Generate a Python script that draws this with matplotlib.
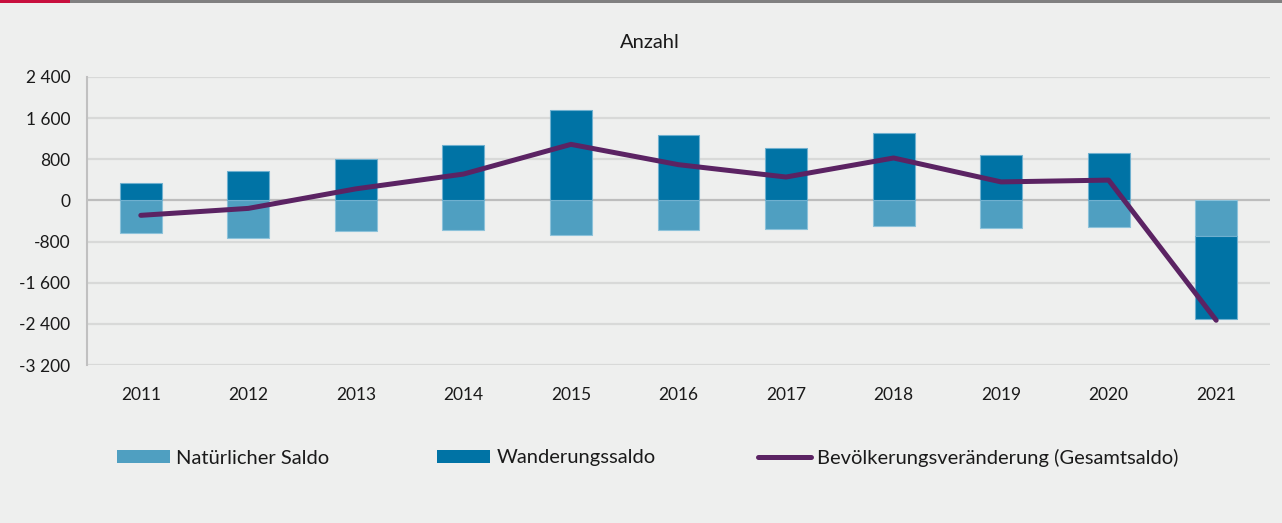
import numpy as np
import matplotlib
matplotlib.use("Agg")
import matplotlib.pyplot as plt
from matplotlib.patches import Patch, Rectangle
from matplotlib.lines import Line2D

# Daten
jahre = ["2011", "2012", "2013", "2014", "2015", "2016", "2017", "2018", "2019", "2020", "2021"]
natuerlich = [-636, -733, -591, -577, -663, -577, -565, -507, -538, -526, -688]
wanderung = [340, 580, 813, 1086, 1750, 1275, 1028, 1320, 891, 917, -1625]
gesamt = [-290, -155, 225, 512, 1090, 695, 455, 825, 360, 395, -2330]

y_ticks = [-3200, -2400, -1600, -800, 0, 800, 1600, 2400]
y_labels = ["-3 200", "-2 400", "-1 600", "-800", "0", "800", "1 600", "2 400"]

BG = "#eeefee"
HELL = "#4f9fc1"
DUNKEL = "#0073a5"
LILA = "#5b2363"

plt.rcParams["font.family"] = ["Lato", "DejaVu Sans"]
FS = 12.5      # Zahlen
FS_TXT = 14.5  # Titel und Legende

fig = plt.figure(figsize=(12.82, 5.23), dpi=100, facecolor=BG)
ax = fig.add_axes([0.0679, 0.3021, 0.9227, 0.5507], facecolor=BG)

x = np.arange(len(jahre))
nat = np.array(natuerlich)
wan = np.array(wanderung)
bottom_wan = np.where(wan < 0, nat, 0)

ax.bar(x, nat, width=0.39, color=HELL, edgecolor="#8cc2da", linewidth=0.8, zorder=2)
ax.bar(x, wan, width=0.39, bottom=bottom_wan, color=DUNKEL, edgecolor="#6fb0cf",
       linewidth=0.8, zorder=2)
ax.plot(x, gesamt, color=LILA, linewidth=3.6, solid_capstyle="round",
        solid_joinstyle="round", zorder=3)

ax.set_xlim(-0.5, len(jahre) - 0.5)
ax.set_ylim(-3200, 2400)
ax.set_yticks(y_ticks)
ax.set_yticklabels(y_labels, fontsize=FS)
ax.set_xticks(x)
ax.set_xticklabels(jahre, fontsize=FS)
ax.tick_params(axis="both", length=0, colors="#1a1a1a")
ax.tick_params(axis="y", pad=12)
ax.tick_params(axis="x", pad=16)

for t in y_ticks:
    ax.axhline(t, color="#bdbdbd" if t == 0 else "#d8d9d8", linewidth=1.6, zorder=1)

for s in ["top", "right", "bottom"]:
    ax.spines[s].set_visible(False)
ax.spines["left"].set_color("#c0c0c0")
ax.spines["left"].set_linewidth(1.5)

fig.text(0.507, 1 - 42 / 523, "Anzahl", fontsize=FS_TXT, ha="center", va="center",
         color="#1a1a1a")

# obere Rahmenlinie
fig.add_artist(Rectangle((0, 1 - 3 / 523), 1, 3 / 523, transform=fig.transFigure,
                         color="#808080", linewidth=0))
fig.add_artist(Rectangle((0, 1 - 3 / 523), 70 / 1282, 3 / 523, transform=fig.transFigure,
                         color="#c8103e", linewidth=0, zorder=5))

# Legende
handles = [
    (Patch(facecolor=HELL, edgecolor="none"), "Natürlicher Saldo", 117),
    (Patch(facecolor=DUNKEL, edgecolor="none"), "Wanderungssaldo", 437),
    (Line2D([0], [0], color=LILA, linewidth=3.6, solid_capstyle="round"),
     "Bevölkerungsveränderung (Gesamtsaldo)", 758),
]
for h, lab, xp in handles:
    fig.legend([h], [lab], loc="center left", bbox_to_anchor=(xp / 1282, 1 - 458 / 523),
               frameon=False, fontsize=FS_TXT, borderpad=0, borderaxespad=0,
               handlelength=2.65, handleheight=0.6, handletextpad=0.3,
               labelcolor="#1a1a1a")

fig.savefig("out.png", dpi=100, facecolor=BG)
